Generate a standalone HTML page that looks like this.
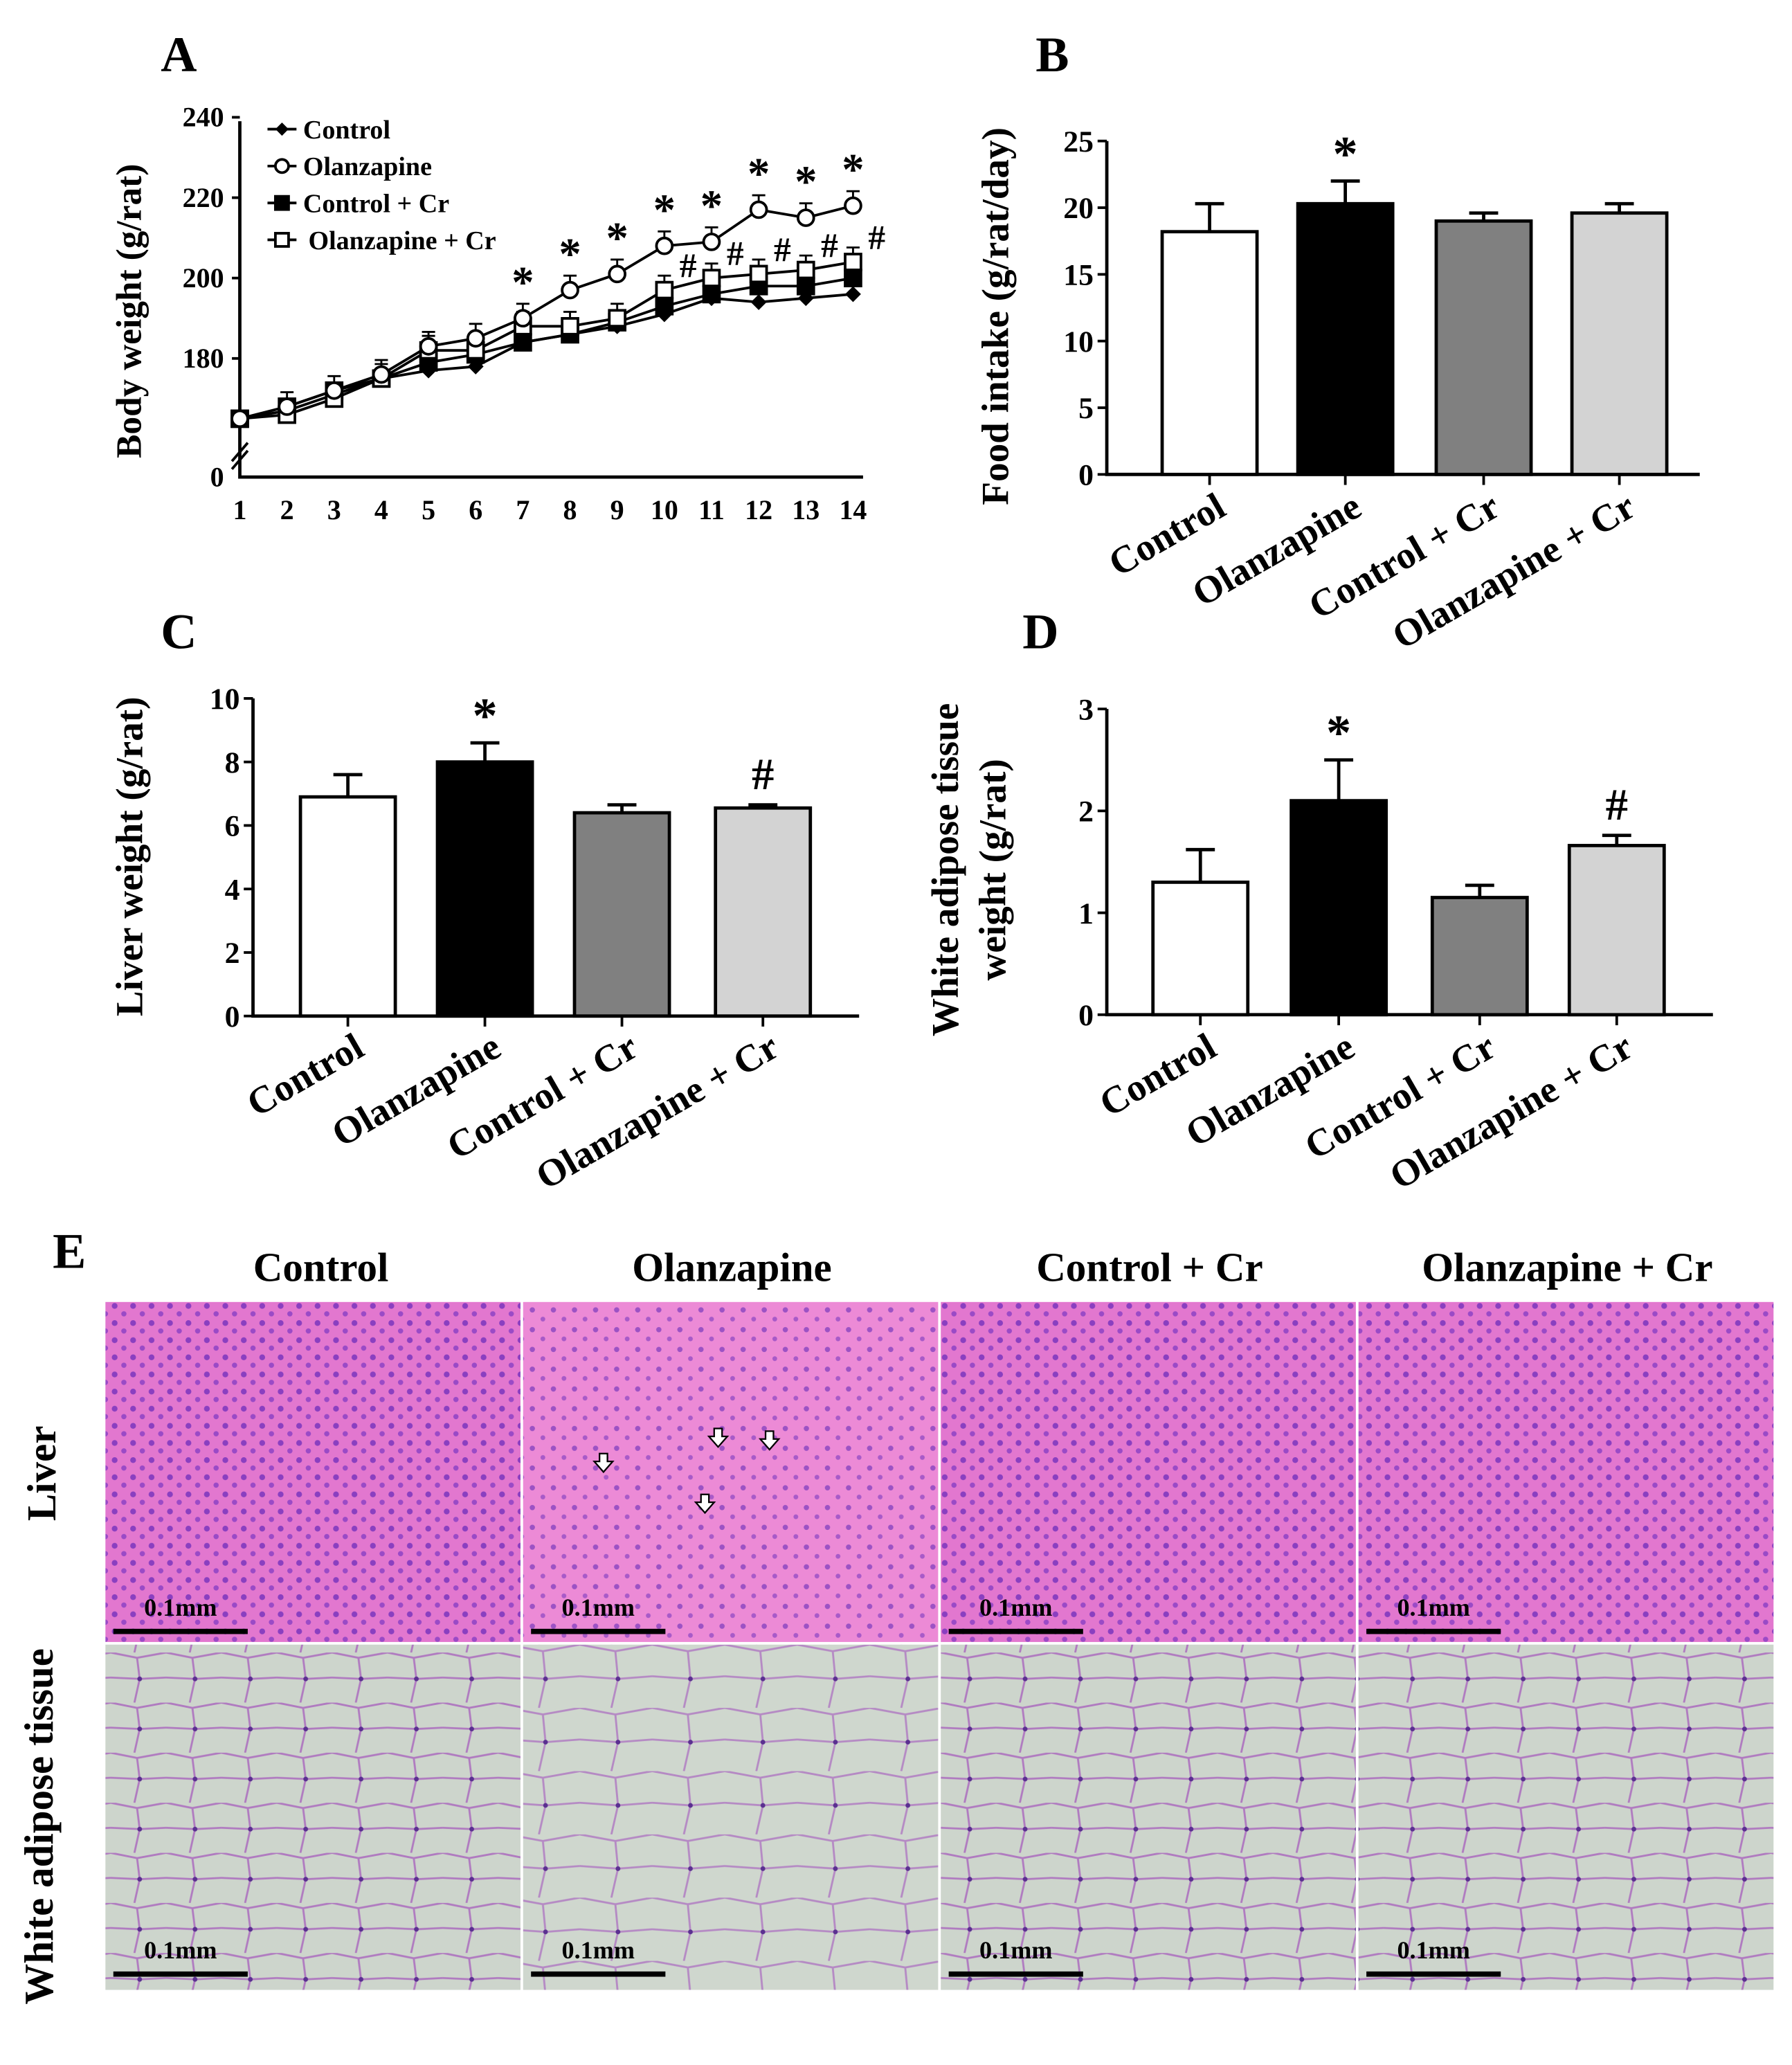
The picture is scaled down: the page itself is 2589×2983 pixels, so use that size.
<!DOCTYPE html>
<html><head><meta charset="utf-8"><style>
html,body{margin:0;padding:0;background:#fff}
svg{display:block}
text{font-family:"Liberation Serif",serif;font-weight:bold;fill:#000}
</style></head><body>
<svg id="fig" width="2589" height="2983" viewBox="0 0 1360 1567" xmlns="http://www.w3.org/2000/svg">
<defs>
<pattern id="liverDots" width="14" height="13" patternUnits="userSpaceOnUse">
<rect width="14" height="13" fill="#e277cf"/>
<circle cx="3" cy="3" r="2.2" fill="#8a3fc0"/><circle cx="10" cy="9" r="2" fill="#9a4ac6"/>
</pattern>
<pattern id="liverDots2" width="16" height="15" patternUnits="userSpaceOnUse">
<rect width="16" height="15" fill="#ec8ad6"/>
<circle cx="4" cy="4" r="2" fill="#9c52c4"/><circle cx="12" cy="11" r="1.8" fill="#a85ac8"/>
</pattern>
<pattern id="fat" width="42" height="38" patternUnits="userSpaceOnUse">
<rect width="42" height="38" fill="#cdd5cc"/>
<path d="M0 0 L20 4 L42 0 M20 4 L22 20 L0 19 M22 20 L42 19 M22 20 L18 38" stroke="#b07bc0" stroke-width="1.5" fill="none"/>
<circle cx="22" cy="20" r="1.8" fill="#5a3090"/>
</pattern>
<pattern id="fatL" width="55" height="48" patternUnits="userSpaceOnUse">
<rect width="55" height="48" fill="#cfd7ce"/>
<path d="M0 0 L27 5 L55 0 M27 5 L29 26 L0 24 M29 26 L55 24 M29 26 L24 48" stroke="#b58ac4" stroke-width="1.5" fill="none"/>
<circle cx="29" cy="26" r="1.8" fill="#5a3090"/>
</pattern>
</defs>
<g id="panelA"></g>
<g id="panelB"></g>
<g id="panelC"></g>
<g id="panelD"></g>
<g id="panelE"></g>
</svg>
<script>
const days=[1,2,3,4,5,6,7,8,9,10,11,12,13,14];
const bwControl=[165,167,171,175,177,178,184,186,188,191,195,194,195,196];
const bwOlz=[165,168,172,176,183,185,190,197,201,208,209,217,215,218];
const bwCtrlCr=[165,168,172,175,179,181,184,186,189,193,196,198,198,200];
const bwOlzCr=[165,166,170,175,182,182,188,188,190,197,200,201,202,204];
const bwTicks=[180,200,220,240];
const starDays=[7,8,9,10,11,12,13,14];
const hashDays=[10,11,12,13,14];
const groups=["Control","Olanzapine","Control + Cr","Olanzapine + Cr"];
const foodMean=[18.2,20.3,19.0,19.6];
const foodErr=[2.1,1.7,0.6,0.7];
const foodTicks=[0,5,10,15,20,25];
const liverMean=[6.9,8.0,6.4,6.55];
const liverErr=[0.7,0.6,0.25,0.1];
const liverTicks=[0,2,4,6,8,10];
const watMean=[1.3,2.1,1.15,1.66];
const watErr=[0.32,0.4,0.12,0.1];
const watTicks=[0,1,2,3];
const barColors=["#fff","#000","#808080","#d3d3d3"];

const NS="http://www.w3.org/2000/svg";
function mk(tag,attrs,parent,txt){const e=document.createElementNS(NS,tag);for(const k in attrs)e.setAttribute(k,attrs[k]);if(txt!==undefined)e.textContent=txt;parent.appendChild(e);return e;}

// Panel A
(function(){
const g=document.getElementById('panelA');
const x=d=>182+(d-1)*35.8;
const y=v=>211-(v-200)*3.05;
let t=mk('text',{x:122,y:54,'font-size':38},g,'A');

let ax=mk('path',{d:'M182 92 V362 H655',stroke:'#000','stroke-width':2.5,fill:'none'},g);

mk('path',{d:'M176 350 L188 336 M176 356 L188 342',stroke:'#000','stroke-width':2},g);
bwTicks.forEach(v=>{mk('line',{x1:176,x2:182,y1:y(v),y2:y(v),stroke:'#000','stroke-width':2},g);
const l=mk('text',{x:170,y:y(v)+7,'font-size':21,'text-anchor':'end'},g,v);
});
mk('text',{x:170,y:369,'font-size':21,'text-anchor':'end'},g,'0');
days.forEach(d=>{const l=mk('text',{x:x(d),y:394,'font-size':21,'text-anchor':'middle'},g,d);
});
const yt=mk('text',{transform:'translate(107,236) rotate(-90)','font-size':27,'text-anchor':'middle'},g,'Body weight (g/rat)');

const series=[[bwControl,'diamond','#000'],[bwCtrlCr,'square','#000'],[bwOlzCr,'square','#fff'],[bwOlz,'circle','#fff']];
series.forEach(([vals,shape,fill],si)=>{
 const pts=vals.map((v,i)=>x(days[i])+','+y(v)).join(' ');
 const pl=mk('polyline',{points:pts,fill:'none',stroke:'#000','stroke-width':2},g);
 
 vals.forEach((v,i)=>{
  if(fill=='#fff'&&i>0){mk('line',{x1:x(days[i]),x2:x(days[i]),y1:y(v),y2:y(v)-11,stroke:'#000','stroke-width':1.5},g);
   mk('line',{x1:x(days[i])-5,x2:x(days[i])+5,y1:y(v)-11,y2:y(v)-11,stroke:'#000','stroke-width':1.5},g);}
  let m;
  if(shape=='circle')m=mk('circle',{cx:x(days[i]),cy:y(v),r:6,fill:fill,stroke:'#000','stroke-width':2},g);
  else if(shape=='square')m=mk('rect',{x:x(days[i])-6,y:y(v)-6,width:12,height:12,fill:fill,stroke:'#000','stroke-width':2},g);
  else m=mk('path',{d:`M${x(days[i])} ${y(v)-6} l6 6 l-6 6 l-6 -6z`,fill:'#000'},g);
  
 });
});
starDays.forEach(d=>{const v=bwOlz[d-1];const s=mk('text',{x:x(d),y:y(v)-16,'font-size':34,'text-anchor':'middle'},g,'*');
});
hashDays.forEach(d=>{const v=bwOlzCr[d-1];const s=mk('text',{x:x(d)+18,y:y(v)-10,'font-size':26,'text-anchor':'middle','font-weight':'normal'},g,'#');
});
const leg=[['Control','diamond','#000'],['Olanzapine','circle','#fff'],['Control + Cr','square','#000'],['Olanzapine + Cr','square','#fff']];
leg.forEach(([n,shape,fill],i)=>{const ly=98+i*28;
 const lg=mk('g',{},g);
 mk('line',{x1:203,x2:225,y1:ly,y2:ly,stroke:'#000','stroke-width':2},lg);
 if(shape=='circle')mk('circle',{cx:214,cy:ly,r:5,fill:fill,stroke:'#000','stroke-width':2},lg);
 else if(shape=='square')mk('rect',{x:209,y:ly-5,width:10,height:10,fill:fill,stroke:'#000','stroke-width':2},lg);
 else mk('path',{d:`M214 ${ly-5} l5 5 l-5 5 l-5 -5z`,fill:'#000'},lg);
 mk('text',{x:i==3?234:230,y:ly+7,'font-size':20},lg,n);
});
})();

function barPanel(id,letter,lx,ly,ax0,ay0,ax1,ayTop,vmax,means,errs,ticks,bx,bw,title,titleX,titleY,labelY,marks,tickFmt,prefix){
const g=document.getElementById(id);
const y=v=>ay0-(v/vmax)*(ay0-ayTop);
let t=mk('text',{x:lx,y:ly,'font-size':38},g,letter);
const a=mk('path',{d:`M${ax0} ${ayTop} V${ay0} H${ax1}`,stroke:'#000','stroke-width':2.5,fill:'none'},g);

ticks.forEach(v=>{mk('line',{x1:ax0-7,x2:ax0,y1:y(v),y2:y(v),stroke:'#000','stroke-width':2},g);
const l=mk('text',{x:ax0-10,y:y(v)+8,'font-size':23,'text-anchor':'end'},g,tickFmt(v));
});
means.forEach((m,i)=>{const cx=bx[i]+bw/2;
 mk('line',{x1:cx,x2:cx,y1:y(m),y2:y(m+errs[i]),stroke:'#000','stroke-width':2.5},g);
 mk('line',{x1:cx-11,x2:cx+11,y1:y(m+errs[i]),y2:y(m+errs[i]),stroke:'#000','stroke-width':2.5},g);
 const r=mk('rect',{x:bx[i],y:y(m),width:bw,height:ay0-y(m),fill:barColors[i],stroke:'#000','stroke-width':2.5},g);
 
 mk('line',{x1:cx,x2:cx,y1:ay0,y2:ay0+8,stroke:'#000','stroke-width':2},g);
 const l=mk('text',{transform:`translate(${cx+14},${labelY}) rotate(-30)`,'font-size':29,'text-anchor':'end'},g,groups[i]);
 
 if(marks[i]){const s=mk('text',{x:cx,y:y(m+errs[i])-(marks[i]=='*'?8:12),'font-size':marks[i]=='*'?38:34,'text-anchor':'middle','font-weight':'normal'},g,marks[i]);
 }
});
title.forEach((tl,k)=>{const tt=mk('text',{transform:`translate(${titleX+k*36},${titleY}) rotate(-90)`,'font-size':29,'text-anchor':'middle'},g,tl);
});
}
barPanel('panelB','B',786,54,840,360,1290,107,25,foodMean,foodErr,foodTicks,[882,985,1090,1193],72,['Food intake (g/rat/day)'],765,240,390,['','*','',''],v=>v,'b');
barPanel('panelC','C',122,492,192,771,652,530,10,liverMean,liverErr,liverTicks,[228,332,436,543],72,['Liver weight (g/rat)'],108,650,800,['','*','','#'],v=>v,'c');
barPanel('panelD','D',776,492,840,770,1300,538,3,watMean,watErr,watTicks,[875,980,1087,1191],72,['White adipose tissue','weight (g/rat)'],727,660,800,['','*','','#'],v=>v,'d');

// Panel E
(function(){
const g=document.getElementById('panelE');
let t=mk('text',{x:40,y:962,'font-size':38},g,'E');
const cols=[80,397,714,1031];const w=317;
cols.forEach((cx,i)=>{
 const h=mk('text',{x:cx+w/2+(i==0?5:0),y:972,'font-size':31,'text-anchor':'middle'},g,groups[i]);
 
 const r1=mk('rect',{x:cx,y:988,width:w-2,height:258,fill:i==1?'url(#liverDots2)':'url(#liverDots)'},g);
 
 const r2=mk('rect',{x:cx,y:1248,width:w-2,height:262,fill:i==1?'url(#fatL)':'url(#fat)'},g);
 
 [[1238,1226],[1498,1486]].forEach(([ly,ty])=>{
  mk('line',{x1:cx+6,x2:cx+108,y1:ly,y2:ly,stroke:'#000','stroke-width':4},g);
  const s=mk('text',{x:cx+57,y:ty,'font-size':19,'text-anchor':'middle','font-weight':'normal'},g,'0.1mm');
  
 });
});
[[458,1110],[545,1091],[584,1093],[535,1141]].forEach(([ax,ay])=>{
 const a=mk('path',{d:`M${ax-3} ${ay-7} h6 v6 h4 l-7 8 l-7 -8 h4z`,fill:'#fff',stroke:'#000','stroke-width':1.2},g);
 
});
const r1=mk('text',{transform:'translate(42,1118) rotate(-90)','font-size':31,'text-anchor':'middle'},g,'Liver');

const r2=mk('text',{transform:'translate(40,1386) rotate(-90)','font-size':31,'text-anchor':'middle'},g,'White adipose tissue');

})();
</script>
</body></html>
